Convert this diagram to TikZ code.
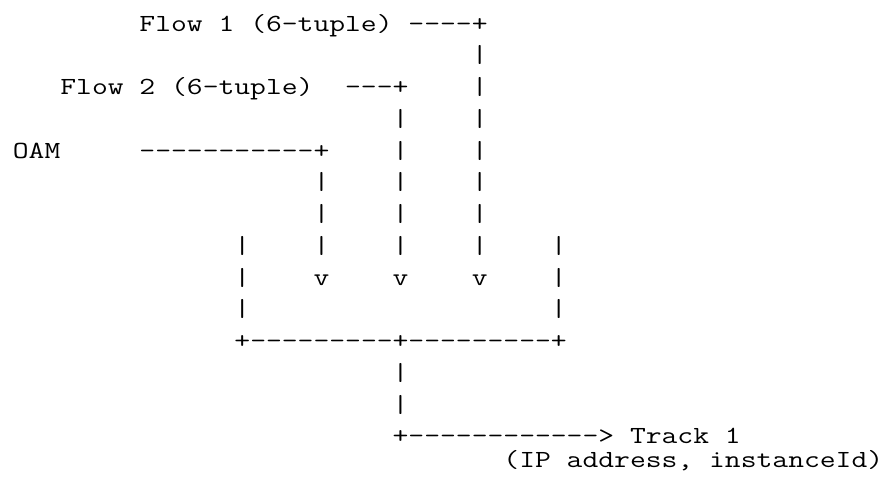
\documentclass[tikz,border=0pt]{standalone}
\usepackage{fontspec}
\setmonofont{Latin Modern Mono}[FakeStretch=1.249]
\usetikzlibrary{matrix}

\begin{document}
\begin{tikzpicture}[asciirow/.style={anchor=west,inner sep=0pt,outer sep=0pt,text height=11.5pt,text depth=4.375pt,font=\ttfamily\fontsize{12.3}{15.875}\selectfont}]
\useasboundingbox (0,0) rectangle (441pt,-239pt);
\matrix[row sep=0pt,anchor=north west,inner sep=0pt,outer sep=0pt] at (6.45pt,-4pt)
{
\node(flowone)[asciirow]{~~~~~~~~Flow~1~(6-tuple)~----+};\\
\node(flowonebar)[asciirow]{~~~~~~~~~~~~~~~~~~~~~~~~~~~~~|};\\
\node(flowtwo)[asciirow]{~~~Flow~2~(6-tuple)~~---+~~~~|};\\
\node(flowtwobar)[asciirow]{~~~~~~~~~~~~~~~~~~~~~~~~|~~~~|};\\
\node(oam)[asciirow]{OAM~~~~~-----------+~~~~|~~~~|};\\
\node(oambara)[asciirow]{~~~~~~~~~~~~~~~~~~~|~~~~|~~~~|};\\
\node(oambarb)[asciirow]{~~~~~~~~~~~~~~~~~~~|~~~~|~~~~|};\\
\node(boxtop)[asciirow]{~~~~~~~~~~~~~~|~~~~|~~~~|~~~~|~~~~|};\\
\node(boxin)[asciirow]{~~~~~~~~~~~~~~|~~~~v~~~~v~~~~v~~~~|};\\
\node(boxside)[asciirow]{~~~~~~~~~~~~~~|~~~~~~~~~~~~~~~~~~~|};\\
\node(boxbottom)[asciirow]{~~~~~~~~~~~~~~+---------+---------+};\\
\node(trackbara)[asciirow]{~~~~~~~~~~~~~~~~~~~~~~~~|};\\
\node(trackbarb)[asciirow]{~~~~~~~~~~~~~~~~~~~~~~~~|};\\
\node(track)[asciirow]{~~~~~~~~~~~~~~~~~~~~~~~~+------------>~Track~1};\\[-4.125pt]
\node(trackinfo)[asciirow]{~~~~~~~~~~~~~~~~~~~~~~~~~~~~~~~(IP~address,~instanceId)};\\
};
\end{tikzpicture}
\end{document}
